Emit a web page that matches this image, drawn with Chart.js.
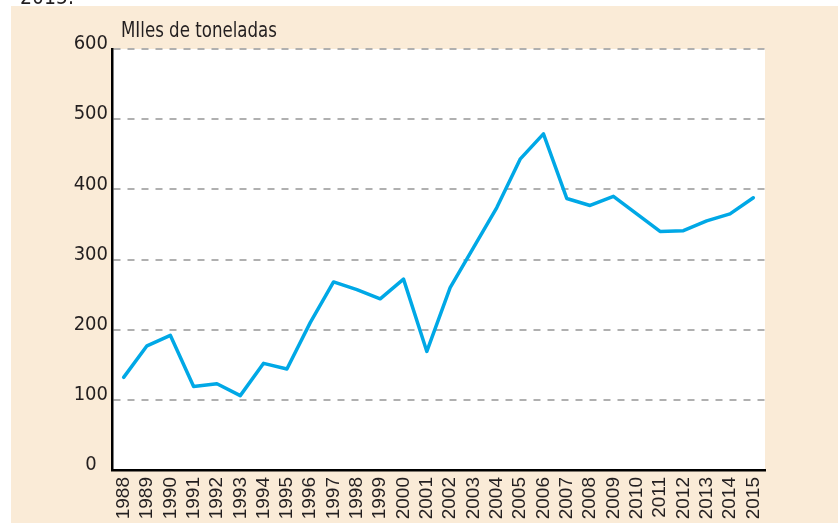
<!DOCTYPE html>
<html>
<head>
<meta charset="utf-8">
<script src="https://cdn.jsdelivr.net/npm/chart.js@4/dist/chart.umd.min.js"></script>
<style>
  html, body { margin: 0; padding: 0; background: #fff; }
  #wrap { width: 838px; height: 523px; }
</style>
</head>
<body>
<div id="wrap"><canvas id="chart" width="838" height="523"></canvas></div>
<script>
// Años (eje x)
const years = ['1988','1989','1990','1991','1992','1993','1994','1995','1996','1997',
  '1998','1999','2000','2001','2002','2003','2004','2005','2006','2007',
  '2008','2009','2010','2011','2012','2013','2014','2015'];

// Miles de toneladas
const toneladas = [132, 177, 192, 119, 123, 106, 152, 144, 210, 268,
  257, 244, 272, 169, 260, 317, 374, 443, 479, 387,
  377, 390, 365, 340, 341, 355, 365, 388];

// Eje y
const yMin = 0;
const yMax = 600;
const yStep = 100;

const unidad = 'MIles de toneladas';
const cabecera = '2015.';

const narrow = "'DejaVu Sans Condensed', 'Liberation Sans', sans-serif";
const beige = '#faebd7';
const ink = '#231f20';

// Fondo beige, área blanca y rótulos sueltos
const fondo = {
  id: 'fondo',
  beforeDraw(chart) {
    const { ctx, chartArea: a } = chart;
    ctx.save();
    ctx.fillStyle = beige;
    ctx.fillRect(11, 6, chart.width - 11, chart.height - 6);
    ctx.fillStyle = '#fff';
    ctx.fillRect(a.left, a.top, a.right - a.left, a.bottom - a.top);
    ctx.restore();
  },
  afterDraw(chart) {
    const { ctx, chartArea: a } = chart;
    ctx.save();
    ctx.fillStyle = ink;
    ctx.font = '21px ' + narrow;
    ctx.textBaseline = 'alphabetic';
    ctx.textAlign = 'left';
    // rótulo de unidades, estrechado para imitar la letra condensada
    const w = ctx.measureText(unidad).width;
    ctx.save();
    ctx.translate(a.left + 9, 37);
    ctx.scale(156 / w, 1);
    ctx.fillText(unidad, 0, 0);
    ctx.restore();
    ctx.fillText(cabecera, 20, 4);
    ctx.restore();
  }
};

new Chart(document.getElementById('chart'), {
  type: 'line',
  data: {
    labels: years,
    datasets: [{
      data: toneladas,
      borderColor: '#00a8e6',
      borderWidth: 3.5,
      borderJoinStyle: 'round',
      borderCapStyle: 'round',
      pointRadius: 0,
      tension: 0,
      fill: false
    }]
  },
  options: {
    responsive: false,
    animation: false,
    layout: { padding: { top: 49, right: 73, left: 0, bottom: 0 } },
    plugins: { legend: { display: false }, tooltip: { enabled: false } },
    scales: {
      x: {
        offset: true,
        grid: { display: false, drawTicks: false },
        border: { display: true, color: '#000', width: 2.5 },
        ticks: {
          autoSkip: false,
          minRotation: 90,
          maxRotation: 90,
          padding: 7,
          color: ink,
          font: { family: "'Liberation Sans', Arial, sans-serif", size: 19 }
        },
        afterFit(s) { s.height = 53; }
      },
      y: {
        min: yMin,
        max: yMax,
        grid: {
          color: '#b0b0b0',
          lineWidth: 2,
          drawTicks: false
        },
        border: { display: true, color: '#000', width: 2.5, dash: [7, 7] },
        ticks: {
          stepSize: yStep,
          padding: 4,
          labelOffset: -5,
          color: ink,
          font: { family: narrow, size: 20 },
          callback: v => v === 0 ? '0\u00a0\u00a0' : String(v)
        },
        afterFit(s) { s.width = 112; }
      }
    }
  },
  plugins: [fondo]
});
</script>
</body>
</html>
